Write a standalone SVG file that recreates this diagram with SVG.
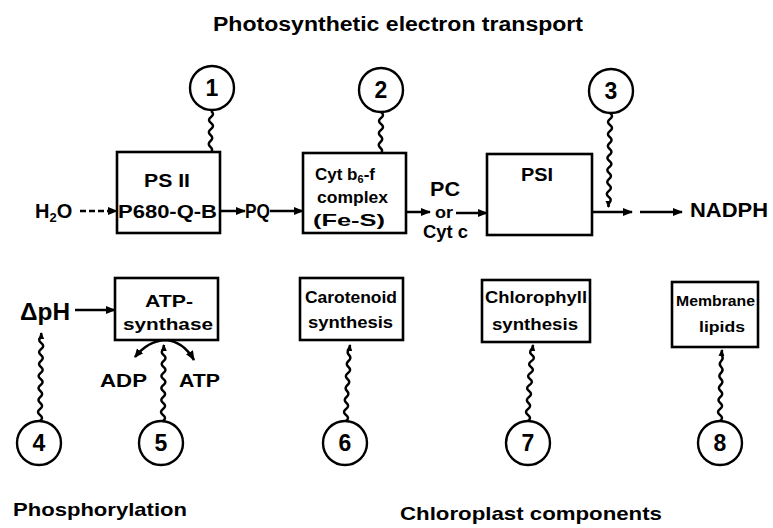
<svg xmlns="http://www.w3.org/2000/svg" width="773" height="528" viewBox="0 0 773 528">
<style>
text{font-family:"Liberation Sans",Arial,sans-serif;font-weight:bold;fill:#000}
.box{fill:#fff;stroke:#000;stroke-width:2.6}
.circ{fill:#fff;stroke:#000;stroke-width:2.4}
.num{font-size:23px;text-anchor:middle}
.arr{fill:none;stroke:#000;stroke-width:2.5;marker-end:url(#ah)}
.wavy{fill:none;stroke:#000;stroke-width:2.5;marker-end:url(#sh)}
</style>
<defs>
<marker id="ah" markerUnits="userSpaceOnUse" markerWidth="10" markerHeight="8" refX="9" refY="4" orient="auto"><path d="M0,0 L10,4 L0,8 Z" fill="#000"/></marker>
<marker id="sh" markerUnits="userSpaceOnUse" markerWidth="7" markerHeight="7" refX="6" refY="3" orient="auto"><path d="M0,0 L7,3 L0,6 Z" fill="#000"/></marker>
<marker id="tail" markerUnits="userSpaceOnUse" markerWidth="9" markerHeight="8" refX="8" refY="4" orient="auto-start-reverse"><path d="M0,0 L9,4 L0,8 Z" fill="#000"/></marker>
</defs>

<text x="213" y="31" font-size="20" textLength="370" lengthAdjust="spacingAndGlyphs">Photosynthetic  electron  transport</text>

<g id="connectors">
<path class="arr" d="M80,211 H117" stroke-dasharray="6 3"/>
<path class="arr" d="M220,211 H245"/>
<path class="arr" d="M270,211 H303"/>
<path class="arr" d="M406,212 H430"/>
<path class="arr" d="M456,213 H487"/>
<path class="arr" d="M592,212 H632"/>
<path class="arr" d="M640,212 H682"/>
<path class="arr" d="M75,310 H115"/>
<path fill="none" stroke="#000" stroke-width="2.6" d="M135,357 Q148,341 165,340 Q183,341 194,360" marker-start="url(#tail)" marker-end="url(#ah)"/>
<path class="wavy" d="M211,111 q4,3 0,6 t0,6 t0,6 t-0.5,6 t0,6 t0,6 t-0.5,6 t0,6 t0,6 t-0.5,6 t0,6 t0,6 t-0.5,6 l0,4"/>
<path class="wavy" d="M381,112 q4,3 0,6 t0,6 t0,6 t-0.5,6 t0,6 t0,6 t-0.5,6 t0,6 t-0.5,6 t0,6 l0,5"/>
<path class="wavy" d="M610,113 q4,3 0,6 t0,6 t0,6 t-0.3,6 t0,6 t0,6 t-0.3,6 t0,6 t0,6 t-0.3,6 t0,6 t0,6 t-0.3,6 t0,6 t-0.3,6 l0,4"/>
<path class="wavy" d="M40,421 q4,-3 0,-6 t0,-6 t0.3,-6 t0,-6 t0,-6 t0.3,-6 t0,-6 t0,-6 t0.3,-6 t0,-6 t0,-6 t0.3,-6 t0,-6 t0,-6 l0,-4"/>
<path class="wavy" d="M163,421 q4,-3 0,-6 t0,-6 t0.2,-6 t0,-6 t0,-6 t0.2,-6 t0,-6 t0,-6 t0.2,-6 t0,-6 t0,-6 t0.2,-6 l0,-4"/>
<path class="wavy" d="M346,421 q4,-3 0,-6 t0,-6 t0.5,-6 t0,-6 t0.5,-6 t0.5,-6 t0,-6 t0.5,-6 t0.5,-6 t0,-6 t0.5,-6 t0.5,-6 l0.5,-4"/>
<path class="wavy" d="M528,421 q4,-3 0,-6 t0,-6 t0.5,-6 t0.5,-6 t0,-6 t0.5,-6 t0.5,-6 t0.5,-6 t0.5,-6 t0.5,-6 t0.5,-6 t0.5,-6 l0.5,-4"/>
<path class="wavy" d="M720,421 q4,-3 0,-6 t0,-6 t0.3,-6 t0,-6 t0.3,-6 t0,-6 t0.3,-6 t0,-6 t0.3,-6 t0,-6 t0.3,-6 l0.5,-5"/>
</g>

<g id="c1"><circle class="circ" cx="212" cy="88" r="22"/><text class="num" x="212" y="96">1</text></g>
<g id="c2"><circle class="circ" cx="381" cy="90" r="22"/><text class="num" x="381" y="98">2</text></g>
<g id="c3"><circle class="circ" cx="611" cy="91" r="22"/><text class="num" x="611" y="99">3</text></g>
<g id="c4"><circle class="circ" cx="39" cy="443" r="22"/><text class="num" x="39" y="451">4</text></g>
<g id="c5"><circle class="circ" cx="161" cy="443" r="22"/><text class="num" x="161" y="451">5</text></g>
<g id="c6"><circle class="circ" cx="345" cy="443" r="22"/><text class="num" x="345" y="451">6</text></g>
<g id="c7"><circle class="circ" cx="528" cy="443" r="22"/><text class="num" x="528" y="451">7</text></g>
<g id="c8"><circle class="circ" cx="720" cy="443" r="22"/><text class="num" x="720" y="451">8</text></g>

<g id="h2o"><text x="35" y="218" font-size="20">H<tspan font-size="13" dy="4">2</tspan><tspan dy="-4">O</tspan></text></g>
<g id="psii">
<rect class="box" x="117" y="152" width="103" height="81"/>
<text x="144" y="187" font-size="18" textLength="46" lengthAdjust="spacingAndGlyphs">PS II</text>
<text x="118" y="218" font-size="19" textLength="99" lengthAdjust="spacingAndGlyphs">P680-Q-B</text>
</g>
<g id="pq"><text x="245" y="218" font-size="20" textLength="25" lengthAdjust="spacingAndGlyphs">PQ</text></g>
<g id="cyt">
<rect class="box" x="303" y="153" width="103" height="80"/>
<text x="315" y="180" font-size="17">Cyt b<tspan font-size="11" dy="3">6</tspan><tspan dy="-3">-f</tspan></text>
<text x="317" y="203" font-size="17" textLength="71" lengthAdjust="spacingAndGlyphs">complex</text>
<text x="313" y="226" font-size="17" textLength="72" lengthAdjust="spacingAndGlyphs">(Fe-S)</text>
</g>
<g id="pc">
<text x="430" y="196" font-size="20" textLength="30" lengthAdjust="spacingAndGlyphs">PC</text>
<text x="435" y="218" font-size="16" textLength="18" lengthAdjust="spacingAndGlyphs">or</text>
<text x="423" y="238" font-size="18" textLength="45" lengthAdjust="spacingAndGlyphs">Cyt c</text>
</g>
<g id="psi">
<rect class="box" x="487" y="154" width="105" height="81"/>
<text x="521" y="181" font-size="19" textLength="32" lengthAdjust="spacingAndGlyphs">PSI</text>
</g>
<g id="nadph"><text x="690" y="217" font-size="20" textLength="78" lengthAdjust="spacingAndGlyphs">NADPH</text></g>
<g id="dph"><text x="20" y="320" font-size="23" textLength="50" lengthAdjust="spacingAndGlyphs">ΔpH</text></g>
<g id="atpsyn">
<rect class="box" x="115" y="278" width="103" height="62"/>
<text x="145" y="307" font-size="17" textLength="48" lengthAdjust="spacingAndGlyphs">ATP-</text>
<text x="123" y="330" font-size="17" textLength="90" lengthAdjust="spacingAndGlyphs">synthase</text>
</g>
<g id="adp"><text x="100" y="387" font-size="19" textLength="47" lengthAdjust="spacingAndGlyphs">ADP</text></g>
<g id="atp"><text x="179" y="387" font-size="19" textLength="41" lengthAdjust="spacingAndGlyphs">ATP</text></g>
<g id="carot">
<rect class="box" x="300" y="278" width="103" height="62"/>
<text x="305" y="303" font-size="16" textLength="92" lengthAdjust="spacingAndGlyphs">Carotenoid</text>
<text x="308" y="328" font-size="16" textLength="85" lengthAdjust="spacingAndGlyphs">synthesis</text>
</g>
<g id="chloro">
<rect class="box" x="482" y="280" width="108" height="62"/>
<text x="485" y="303" font-size="16" textLength="102" lengthAdjust="spacingAndGlyphs">Chlorophyll</text>
<text x="492" y="330" font-size="16" textLength="86" lengthAdjust="spacingAndGlyphs">synthesis</text>
</g>
<g id="membrane">
<rect class="box" x="672" y="282" width="86" height="65"/>
<text x="676" y="306" font-size="15" textLength="79" lengthAdjust="spacingAndGlyphs">Membrane</text>
<text x="699" y="332" font-size="15" textLength="46" lengthAdjust="spacingAndGlyphs">lipids</text>
</g>

<text x="13" y="516" font-size="19" textLength="174" lengthAdjust="spacingAndGlyphs">Phosphorylation</text>
<text x="400" y="520" font-size="19" textLength="262" lengthAdjust="spacingAndGlyphs">Chloroplast  components</text>
</svg>
